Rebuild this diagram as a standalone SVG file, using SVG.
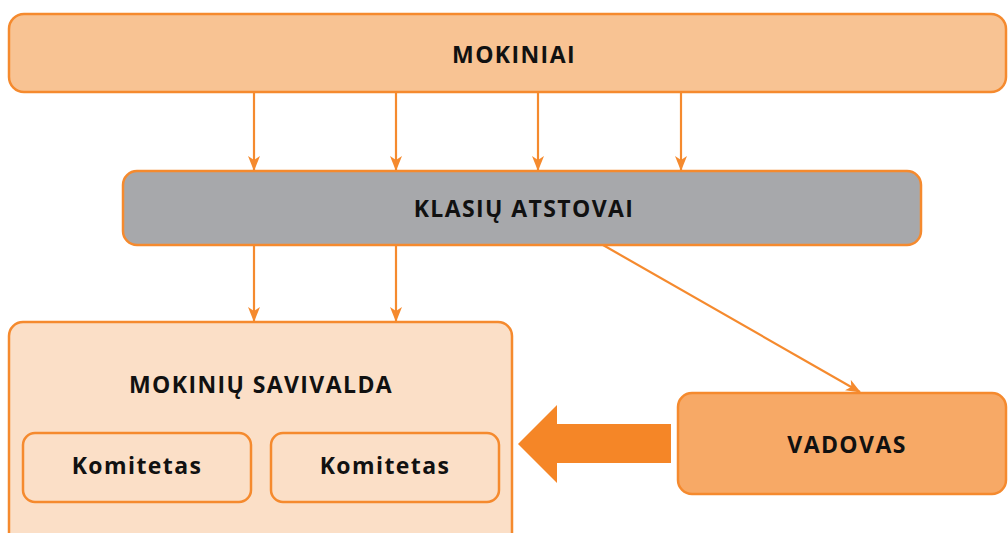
<svg xmlns="http://www.w3.org/2000/svg" width="1008" height="533" viewBox="0 0 1008 533">
<style>
.box{stroke:#F58A2E;stroke-width:2.5}
.lbl{font-family:"Open Sans","Liberation Sans",sans-serif;font-weight:bold;font-size:23px;letter-spacing:1.4px;fill:#111;text-anchor:middle}
.con{stroke:#F58A2E;stroke-width:2.2;fill:none}
</style>
<defs>
<marker id="ah" viewBox="0 0 15 12" refX="14" refY="6" markerWidth="15" markerHeight="12" markerUnits="userSpaceOnUse" orient="auto">
<path d="M0,0 L15,6 L0,12 L4,6 z" fill="#F58A2E"/>
</marker>
</defs>
<rect width="1008" height="533" fill="#fff"/>
<g id="connectors">
<line class="con" x1="254" y1="93" x2="254" y2="170" marker-end="url(#ah)"/>
<line class="con" x1="396" y1="93" x2="396" y2="170" marker-end="url(#ah)"/>
<line class="con" x1="538" y1="93" x2="538" y2="170" marker-end="url(#ah)"/>
<line class="con" x1="681" y1="93" x2="681" y2="170" marker-end="url(#ah)"/>
<line class="con" x1="254" y1="246" x2="254" y2="321" marker-end="url(#ah)"/>
<line class="con" x1="396" y1="246" x2="396" y2="321" marker-end="url(#ah)"/>
<line class="con" x1="603" y1="245" x2="860" y2="392" marker-end="url(#ah)"/>
<polygon points="518,444 557,405 557,424 671,424 671,463 557,463 557,483" fill="#F58627"/>
</g>
<g id="mokiniai">
<rect class="box" x="9" y="14" width="997" height="78" rx="15" fill="#F8C393"/>
<text class="lbl" x="514" y="63">MOKINIAI</text>
</g>
<g id="klasiu-atstovai">
<rect class="box" x="123" y="171" width="798" height="74" rx="14" fill="#A7A8AB"/>
<text class="lbl" x="524" y="217">KLASIŲ ATSTOVAI</text>
</g>
<g id="mokiniu-savivalda">
<rect class="box" x="9" y="322" width="503" height="240" rx="14" fill="#FBDFC7"/>
<text class="lbl" x="261" y="393">MOKINIŲ SAVIVALDA</text>
</g>
<g id="komitetas-1">
<rect class="box" x="23" y="433" width="228" height="69" rx="12" fill="#FBDFC7"/>
<text class="lbl" x="137" y="474">Komitetas</text>
</g>
<g id="komitetas-2">
<rect class="box" x="271" y="433" width="228" height="69" rx="12" fill="#FBDFC7"/>
<text class="lbl" x="385" y="474">Komitetas</text>
</g>
<g id="vadovas">
<rect class="box" x="678" y="393" width="328" height="101" rx="14" fill="#F7A966"/>
<text class="lbl" x="847" y="453">VADOVAS</text>
</g>
</svg>
